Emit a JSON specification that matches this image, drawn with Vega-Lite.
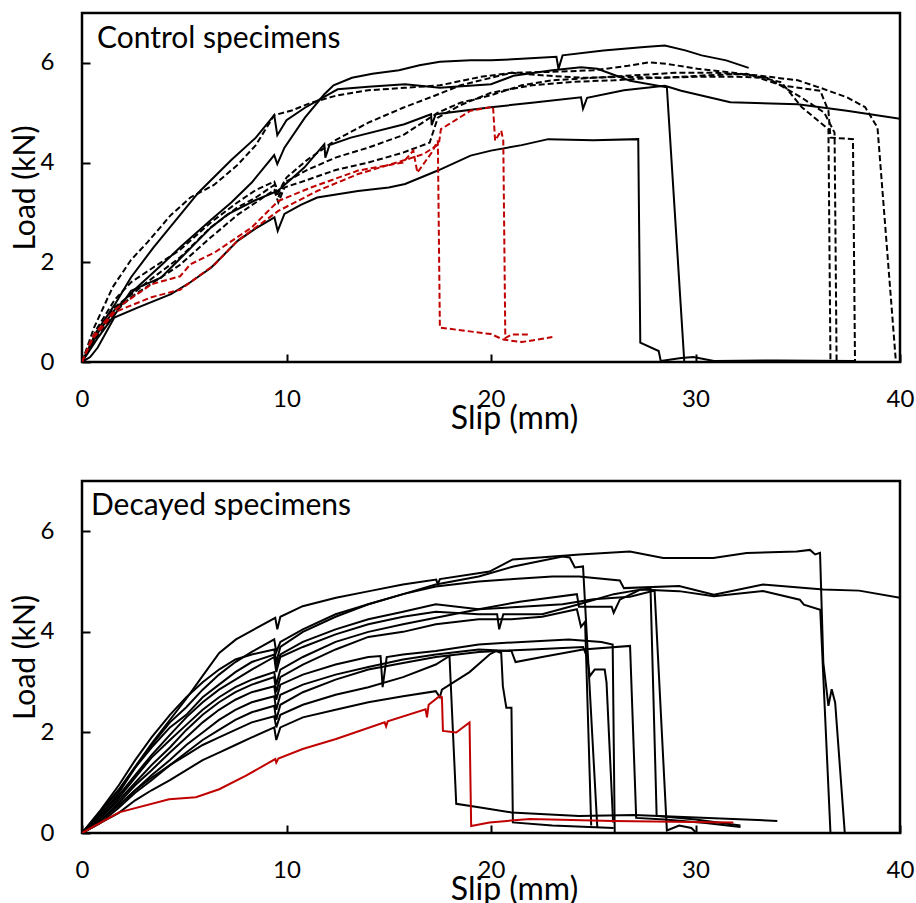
{
"$schema": "https://vega.github.io/schema/vega-lite/v6.json",
"background": "white",
"padding": {"left": 8, "top": 11, "right": 5, "bottom": 0},
"config": {
  "font": "Lato",
  "view": {"stroke": "black", "strokeWidth": 2.5},
  "axis": {"grid": false, "domain": false, "tickColor": "black", "tickSize": -8, "tickWidth": 2, "labelFont": "Lato", "labelFontSize": 24, "labelColor": "black", "labelFlush": false, "labelOverlap": false, "titleFont": "Lato", "titleFontWeight": "normal", "titleColor": "black"},
  "axisX": {"labelPadding": 33, "titlePadding": -8, "titleFontSize": 32, "titleX": 432},
  "axisY": {"labelPadding": 36, "titlePadding": 0, "titleFontSize": 30}
},
"spacing": 43,
"datasets": {
"top": [
{"s":"C1","x":0,"y":0},{"s":"C1","x":0.4,"y":0.1},{"s":"C1","x":0.77,"y":0.29},{"s":"C1","x":1.58,"y":0.89},{"s":"C1","x":2.72,"y":1.09},{"s":"C1","x":4.35,"y":1.36},{"s":"C1","x":5.3,"y":1.6},{"s":"C1","x":6.31,"y":1.89},{"s":"C1","x":7.61,"y":2.43},{"s":"C1","x":8.5,"y":2.68},{"s":"C1","x":9.41,"y":2.9},{"s":"C1","x":9.57,"y":2.63},{"s":"C1","x":9.9,"y":2.97},{"s":"C1","x":10.7,"y":3.15},{"s":"C1","x":11.5,"y":3.3},{"s":"C1","x":13.5,"y":3.43},{"s":"C1","x":15,"y":3.5},{"s":"C1","x":15.8,"y":3.57},{"s":"C1","x":17.4,"y":3.84},{"s":"C1","x":19,"y":4.14},{"s":"C1","x":20,"y":4.24},{"s":"C1","x":21.5,"y":4.35},{"s":"C1","x":22.8,"y":4.47},{"s":"C1","x":25,"y":4.45},{"s":"C1","x":27.2,"y":4.47},{"s":"C1","x":27.3,"y":0.39},{"s":"C1","x":28.2,"y":0.22},{"s":"C1","x":28.3,"y":0.02},{"s":"C1","x":29.3,"y":0.08},{"s":"C1","x":29.9,"y":0.1},{"s":"C1","x":30.9,"y":0.02},{"s":"C1","x":34,"y":0.03},{"s":"C1","x":37.8,"y":0.02},
{"s":"C2","x":0,"y":0},{"s":"C2","x":0.7,"y":0.6},{"s":"C2","x":1.6,"y":1.15},{"s":"C2","x":2.4,"y":1.7},{"s":"C2","x":3.5,"y":2.3},{"s":"C2","x":4.8,"y":2.95},{"s":"C2","x":5.7,"y":3.4},{"s":"C2","x":7.3,"y":4.05},{"s":"C2","x":8.5,"y":4.5},{"s":"C2","x":9.4,"y":4.95},{"s":"C2","x":9.55,"y":4.55},{"s":"C2","x":10,"y":4.85},{"s":"C2","x":10.9,"y":5.1},{"s":"C2","x":12.5,"y":5.47},{"s":"C2","x":14,"y":5.52},{"s":"C2","x":15.8,"y":5.57},{"s":"C2","x":17.5,"y":5.5},{"s":"C2","x":20,"y":5.57},{"s":"C2","x":21.1,"y":5.74},{"s":"C2","x":23,"y":5.85},{"s":"C2","x":24.4,"y":5.91},{"s":"C2","x":25.2,"y":5.88},{"s":"C2","x":26.8,"y":5.64},{"s":"C2","x":28.6,"y":5.51},{"s":"C2","x":29.45,"y":0.02},
{"s":"C3","x":0,"y":0},{"s":"C3","x":0.8,"y":0.6},{"s":"C3","x":1.6,"y":1.05},{"s":"C3","x":2.7,"y":1.5},{"s":"C3","x":3.9,"y":1.95},{"s":"C3","x":4.8,"y":2.3},{"s":"C3","x":6.3,"y":2.85},{"s":"C3","x":7.3,"y":3.2},{"s":"C3","x":8.3,"y":3.6},{"s":"C3","x":9.4,"y":4.15},{"s":"C3","x":9.55,"y":3.97},{"s":"C3","x":9.9,"y":4.3},{"s":"C3","x":10.9,"y":4.9},{"s":"C3","x":11.85,"y":5.37},{"s":"C3","x":12.3,"y":5.55},{"s":"C3","x":13.2,"y":5.7},{"s":"C3","x":14.2,"y":5.78},{"s":"C3","x":15.5,"y":5.85},{"s":"C3","x":16.5,"y":5.95},{"s":"C3","x":17.5,"y":6.02},{"s":"C3","x":19,"y":6.05},{"s":"C3","x":20,"y":6.05},{"s":"C3","x":21.5,"y":6.08},{"s":"C3","x":23.2,"y":6.12},{"s":"C3","x":23.3,"y":5.88},{"s":"C3","x":23.5,"y":6.15},{"s":"C3","x":25.5,"y":6.25},{"s":"C3","x":27.5,"y":6.32},{"s":"C3","x":28.5,"y":6.35},{"s":"C3","x":29.5,"y":6.25},{"s":"C3","x":30.3,"y":6.15},{"s":"C3","x":31.5,"y":6.05},{"s":"C3","x":32.6,"y":5.9},
{"s":"C4","x":0,"y":0},{"s":"C4","x":0.8,"y":0.5},{"s":"C4","x":1.6,"y":0.95},{"s":"C4","x":2.4,"y":1.43},{"s":"C4","x":3.86,"y":1.69},{"s":"C4","x":4.84,"y":2.09},{"s":"C4","x":6.31,"y":2.7},{"s":"C4","x":7.12,"y":2.96},{"s":"C4","x":8.5,"y":3.25},{"s":"C4","x":9.57,"y":3.43},{"s":"C4","x":10.87,"y":3.9},{"s":"C4","x":11.85,"y":4.37},{"s":"C4","x":11.9,"y":4.1},{"s":"C4","x":12.1,"y":4.35},{"s":"C4","x":13.15,"y":4.5},{"s":"C4","x":15.76,"y":4.77},{"s":"C4","x":17.07,"y":4.97},{"s":"C4","x":17.1,"y":4.75},{"s":"C4","x":17.3,"y":4.97},{"s":"C4","x":20,"y":5.11},{"s":"C4","x":22,"y":5.2},{"s":"C4","x":24.4,"y":5.31},{"s":"C4","x":24.5,"y":5.08},{"s":"C4","x":24.7,"y":5.3},{"s":"C4","x":26.5,"y":5.45},{"s":"C4","x":28.5,"y":5.54},{"s":"C4","x":29.3,"y":5.44},{"s":"C4","x":31.7,"y":5.21},{"s":"C4","x":35,"y":5.17},{"s":"C4","x":37.4,"y":5.04},{"s":"C4","x":40,"y":4.88},
{"s":"D1","x":0,"y":0},{"s":"D1","x":0.6,"y":0.7},{"s":"D1","x":1.5,"y":1.5},{"s":"D1","x":2.4,"y":2.05},{"s":"D1","x":3.2,"y":2.4},{"s":"D1","x":4.35,"y":2.95},{"s":"D1","x":5.3,"y":3.3},{"s":"D1","x":6.45,"y":3.55},{"s":"D1","x":7.6,"y":3.95},{"s":"D1","x":8.5,"y":4.35},{"s":"D1","x":9.4,"y":4.95},{"s":"D1","x":10.3,"y":5.05},{"s":"D1","x":11.2,"y":5.2},{"s":"D1","x":12.5,"y":5.35},{"s":"D1","x":14,"y":5.45},{"s":"D1","x":15.8,"y":5.5},{"s":"D1","x":17.5,"y":5.55},{"s":"D1","x":19.5,"y":5.72},{"s":"D1","x":21,"y":5.8},{"s":"D1","x":23,"y":5.82},{"s":"D1","x":25,"y":5.85},{"s":"D1","x":26.7,"y":5.94},{"s":"D1","x":27.7,"y":6.01},{"s":"D1","x":28.6,"y":5.98},{"s":"D1","x":30.1,"y":5.88},{"s":"D1","x":31.7,"y":5.81},{"s":"D1","x":32.9,"y":5.74},{"s":"D1","x":34.2,"y":5.61},{"s":"D1","x":35.2,"y":5.11},{"s":"D1","x":36.5,"y":4.67},{"s":"D1","x":36.6,"y":0},
{"s":"D2","x":0,"y":0},{"s":"D2","x":0.7,"y":0.55},{"s":"D2","x":1.6,"y":1.1},{"s":"D2","x":2.4,"y":1.35},{"s":"D2","x":3.5,"y":1.7},{"s":"D2","x":4.8,"y":2.1},{"s":"D2","x":6.3,"y":2.7},{"s":"D2","x":7.6,"y":3.1},{"s":"D2","x":8.5,"y":3.3},{"s":"D2","x":9.4,"y":3.55},{"s":"D2","x":9.6,"y":3.3},{"s":"D2","x":9.9,"y":3.6},{"s":"D2","x":11,"y":3.85},{"s":"D2","x":12.4,"y":4.1},{"s":"D2","x":14,"y":4.3},{"s":"D2","x":15.7,"y":4.55},{"s":"D2","x":17.4,"y":5.0},{"s":"D2","x":18.5,"y":5.2},{"s":"D2","x":20,"y":5.35},{"s":"D2","x":21.5,"y":5.55},{"s":"D2","x":23,"y":5.65},{"s":"D2","x":25,"y":5.7},{"s":"D2","x":27,"y":5.75},{"s":"D2","x":29,"y":5.8},{"s":"D2","x":31,"y":5.8},{"s":"D2","x":33,"y":5.75},{"s":"D2","x":35,"y":5.65},{"s":"D2","x":36.1,"y":5.5},{"s":"D2","x":37.4,"y":5.31},{"s":"D2","x":38.3,"y":5.11},{"s":"D2","x":38.9,"y":4.7},{"s":"D2","x":39.8,"y":0},
{"s":"D3","x":0,"y":0},{"s":"D3","x":0.7,"y":0.5},{"s":"D3","x":1.6,"y":1.0},{"s":"D3","x":2.4,"y":1.3},{"s":"D3","x":3.5,"y":1.6},{"s":"D3","x":4.8,"y":1.95},{"s":"D3","x":6.3,"y":2.5},{"s":"D3","x":7.6,"y":2.95},{"s":"D3","x":8.5,"y":3.2},{"s":"D3","x":9.4,"y":3.45},{"s":"D3","x":9.6,"y":3.2},{"s":"D3","x":9.9,"y":3.5},{"s":"D3","x":11,"y":3.65},{"s":"D3","x":12.4,"y":3.85},{"s":"D3","x":14,"y":4.0},{"s":"D3","x":15.7,"y":4.2},{"s":"D3","x":17,"y":4.4},{"s":"D3","x":17.4,"y":4.9},{"s":"D3","x":18.5,"y":5.15},{"s":"D3","x":20,"y":5.4},{"s":"D3","x":22,"y":5.55},{"s":"D3","x":24,"y":5.62},{"s":"D3","x":26,"y":5.65},{"s":"D3","x":28,"y":5.7},{"s":"D3","x":30,"y":5.72},{"s":"D3","x":32,"y":5.72},{"s":"D3","x":33.5,"y":5.7},{"s":"D3","x":35.2,"y":5.3},{"s":"D3","x":36.3,"y":5.0},{"s":"D3","x":36.8,"y":4.6},{"s":"D3","x":36.9,"y":0},
{"s":"D4","x":0,"y":0},{"s":"D4","x":0.7,"y":0.65},{"s":"D4","x":1.6,"y":1.25},{"s":"D4","x":2.4,"y":1.6},{"s":"D4","x":3.5,"y":1.9},{"s":"D4","x":4.8,"y":2.25},{"s":"D4","x":6.3,"y":2.8},{"s":"D4","x":7.6,"y":3.2},{"s":"D4","x":8.5,"y":3.45},{"s":"D4","x":9.4,"y":3.62},{"s":"D4","x":9.6,"y":3.4},{"s":"D4","x":10,"y":3.7},{"s":"D4","x":11,"y":4.05},{"s":"D4","x":12.4,"y":4.45},{"s":"D4","x":14,"y":4.8},{"s":"D4","x":15.7,"y":5.1},{"s":"D4","x":17.3,"y":5.35},{"s":"D4","x":18.5,"y":5.55},{"s":"D4","x":20,"y":5.7},{"s":"D4","x":21,"y":5.8},{"s":"D4","x":22.5,"y":5.75},{"s":"D4","x":24.5,"y":5.7},{"s":"D4","x":26.5,"y":5.72},{"s":"D4","x":28.5,"y":5.7},{"s":"D4","x":30.5,"y":5.75},{"s":"D4","x":32.5,"y":5.78},{"s":"D4","x":34.2,"y":5.55},{"s":"D4","x":36.1,"y":5.44},{"s":"D4","x":36.5,"y":5.04},{"s":"D4","x":36.6,"y":4.5},{"s":"D4","x":37.7,"y":4.47},{"s":"D4","x":37.8,"y":0},
{"s":"R1","x":0,"y":0},{"s":"R1","x":0.5,"y":0.5},{"s":"R1","x":1.6,"y":1.05},{"s":"R1","x":3.4,"y":1.56},{"s":"R1","x":4.8,"y":1.72},{"s":"R1","x":5.3,"y":1.96},{"s":"R1","x":6.5,"y":2.2},{"s":"R1","x":8.3,"y":2.7},{"s":"R1","x":9.6,"y":3.23},{"s":"R1","x":11.2,"y":3.5},{"s":"R1","x":13.5,"y":3.84},{"s":"R1","x":15.7,"y":4.0},{"s":"R1","x":16.2,"y":4.24},{"s":"R1","x":16.4,"y":3.8},{"s":"R1","x":17.1,"y":4.2},{"s":"R1","x":17.4,"y":4.44},{"s":"R1","x":17.5,"y":0.69},{"s":"R1","x":20,"y":0.56},{"s":"R1","x":20.6,"y":0.45},{"s":"R1","x":21.5,"y":0.4},{"s":"R1","x":22.3,"y":0.45},{"s":"R1","x":23,"y":0.5},
{"s":"R2","x":0,"y":0},{"s":"R2","x":0.5,"y":0.45},{"s":"R2","x":1.6,"y":1.0},{"s":"R2","x":3.4,"y":1.3},{"s":"R2","x":4.8,"y":1.45},{"s":"R2","x":6.5,"y":1.96},{"s":"R2","x":7.6,"y":2.43},{"s":"R2","x":9.6,"y":3.03},{"s":"R2","x":11.5,"y":3.43},{"s":"R2","x":13.5,"y":3.77},{"s":"R2","x":15.7,"y":4.04},{"s":"R2","x":16.7,"y":4.17},{"s":"R2","x":17.45,"y":4.37},{"s":"R2","x":17.55,"y":4.67},{"s":"R2","x":19,"y":5.04},{"s":"R2","x":20.1,"y":5.12},{"s":"R2","x":20.2,"y":4.44},{"s":"R2","x":20.5,"y":4.64},{"s":"R2","x":20.6,"y":4.44},{"s":"R2","x":20.7,"y":0.48},{"s":"R2","x":21,"y":0.55},{"s":"R2","x":21.8,"y":0.55}
],
"bot": [
{"s":"B1","x":0,"y":0},{"s":"B1","x":1.81,"y":0.87},{"s":"B1","x":3.44,"y":1.8},{"s":"B1","x":5.08,"y":2.66},{"s":"B1","x":5.89,"y":3.12},{"s":"B1","x":6.71,"y":3.58},{"s":"B1","x":7.53,"y":3.85},{"s":"B1","x":9.45,"y":4.28},{"s":"B1","x":9.55,"y":4.05},{"s":"B1","x":9.7,"y":4.3},{"s":"B1","x":10.79,"y":4.51},{"s":"B1","x":12.42,"y":4.68},{"s":"B1","x":14.05,"y":4.81},{"s":"B1","x":15.69,"y":4.94},{"s":"B1","x":17.32,"y":5.04},{"s":"B1","x":17.4,"y":4.95},{"s":"B1","x":17.5,"y":5.05},{"s":"B1","x":19.93,"y":5.2},{"s":"B1","x":21.07,"y":5.44},{"s":"B1","x":24.34,"y":5.54},{"s":"B1","x":26.79,"y":5.6},{"s":"B1","x":28.42,"y":5.47},{"s":"B1","x":30.87,"y":5.47},{"s":"B1","x":32.5,"y":5.57},{"s":"B1","x":34.95,"y":5.6},{"s":"B1","x":35.6,"y":5.63},{"s":"B1","x":35.85,"y":5.54},{"s":"B1","x":36.09,"y":5.57},{"s":"B1","x":36.25,"y":3.39},{"s":"B1","x":36.5,"y":2.53},{"s":"B1","x":36.66,"y":2.86},{"s":"B1","x":36.83,"y":2.59},{"s":"B1","x":37.3,"y":0},
{"s":"B2","x":0,"y":0},{"s":"B2","x":0.9,"y":0.35},{"s":"B2","x":1.8,"y":0.8},{"s":"B2","x":2.6,"y":1.3},{"s":"B2","x":3.4,"y":1.75},{"s":"B2","x":4.3,"y":2.2},{"s":"B2","x":5.1,"y":2.5},{"s":"B2","x":5.9,"y":2.85},{"s":"B2","x":6.7,"y":3.15},{"s":"B2","x":7.5,"y":3.4},{"s":"B2","x":8.3,"y":3.6},{"s":"B2","x":9.4,"y":3.85},{"s":"B2","x":9.5,"y":3.6},{"s":"B2","x":9.7,"y":3.8},{"s":"B2","x":10.8,"y":4.05},{"s":"B2","x":12.4,"y":4.35},{"s":"B2","x":14,"y":4.55},{"s":"B2","x":15.7,"y":4.75},{"s":"B2","x":17.3,"y":4.9},{"s":"B2","x":19.4,"y":5.0},{"s":"B2","x":21.1,"y":5.05},{"s":"B2","x":23,"y":5.1},{"s":"B2","x":24.3,"y":5.1},{"s":"B2","x":26.3,"y":5.02},{"s":"B2","x":26.5,"y":4.87},{"s":"B2","x":29.2,"y":4.91},{"s":"B2","x":30.9,"y":4.74},{"s":"B2","x":33.3,"y":4.94},{"s":"B2","x":36.25,"y":4.84},{"s":"B2","x":38,"y":4.82},{"s":"B2","x":40,"y":4.68},
{"s":"B3","x":0,"y":0},{"s":"B3","x":0.9,"y":0.4},{"s":"B3","x":1.8,"y":0.85},{"s":"B3","x":2.6,"y":1.3},{"s":"B3","x":3.4,"y":1.7},{"s":"B3","x":4.3,"y":2.1},{"s":"B3","x":5.1,"y":2.35},{"s":"B3","x":5.9,"y":2.7},{"s":"B3","x":6.7,"y":2.95},{"s":"B3","x":7.5,"y":3.2},{"s":"B3","x":8.3,"y":3.4},{"s":"B3","x":9.4,"y":3.55},{"s":"B3","x":9.5,"y":3.3},{"s":"B3","x":9.7,"y":3.55},{"s":"B3","x":10.8,"y":3.8},{"s":"B3","x":12.4,"y":4.05},{"s":"B3","x":14,"y":4.25},{"s":"B3","x":15.7,"y":4.4},{"s":"B3","x":17.3,"y":4.55},{"s":"B3","x":19.4,"y":4.45},{"s":"B3","x":21.4,"y":4.6},{"s":"B3","x":24.2,"y":4.75},{"s":"B3","x":24.3,"y":4.5},{"s":"B3","x":25.9,"y":4.5},{"s":"B3","x":26,"y":4.38},{"s":"B3","x":26.3,"y":4.64},{"s":"B3","x":27.3,"y":4.84},{"s":"B3","x":29.2,"y":4.81},{"s":"B3","x":30.9,"y":4.71},{"s":"B3","x":33.3,"y":4.81},{"s":"B3","x":35.1,"y":4.64},{"s":"B3","x":35.3,"y":4.54},{"s":"B3","x":36.1,"y":4.44},{"s":"B3","x":36.6,"y":0},
{"s":"B4","x":0,"y":0},{"s":"B4","x":0.9,"y":0.45},{"s":"B4","x":1.8,"y":0.95},{"s":"B4","x":2.6,"y":1.45},{"s":"B4","x":3.4,"y":1.9},{"s":"B4","x":4.3,"y":2.35},{"s":"B4","x":5.1,"y":2.7},{"s":"B4","x":5.9,"y":3.0},{"s":"B4","x":6.7,"y":3.25},{"s":"B4","x":7.5,"y":3.45},{"s":"B4","x":8.3,"y":3.55},{"s":"B4","x":9.4,"y":3.65},{"s":"B4","x":9.5,"y":3.4},{"s":"B4","x":9.7,"y":3.7},{"s":"B4","x":10.8,"y":4.0},{"s":"B4","x":12.4,"y":4.3},{"s":"B4","x":14,"y":4.55},{"s":"B4","x":15.7,"y":4.75},{"s":"B4","x":17.3,"y":4.94},{"s":"B4","x":19.4,"y":5.1},{"s":"B4","x":21.1,"y":5.3},{"s":"B4","x":23.5,"y":5.5},{"s":"B4","x":23.85,"y":5.48},{"s":"B4","x":24.1,"y":5.28},{"s":"B4","x":24.5,"y":5.3},{"s":"B4","x":25.2,"y":0.1},
{"s":"B5","x":0,"y":0},{"s":"B5","x":0.9,"y":0.35},{"s":"B5","x":1.8,"y":0.75},{"s":"B5","x":2.6,"y":1.15},{"s":"B5","x":3.4,"y":1.55},{"s":"B5","x":4.3,"y":1.95},{"s":"B5","x":5.1,"y":2.3},{"s":"B5","x":5.9,"y":2.6},{"s":"B5","x":6.7,"y":2.85},{"s":"B5","x":7.5,"y":3.05},{"s":"B5","x":8.3,"y":3.25},{"s":"B5","x":9.4,"y":3.5},{"s":"B5","x":9.5,"y":3.2},{"s":"B5","x":9.7,"y":3.5},{"s":"B5","x":10.8,"y":3.7},{"s":"B5","x":12.4,"y":3.95},{"s":"B5","x":14,"y":4.15},{"s":"B5","x":15.7,"y":4.3},{"s":"B5","x":17.3,"y":4.4},{"s":"B5","x":19.4,"y":4.35},{"s":"B5","x":20.3,"y":4.35},{"s":"B5","x":20.4,"y":4.05},{"s":"B5","x":20.6,"y":4.35},{"s":"B5","x":22.5,"y":4.35},{"s":"B5","x":24.3,"y":4.55},{"s":"B5","x":26,"y":4.75},{"s":"B5","x":27.3,"y":4.84},{"s":"B5","x":27.8,"y":4.86},{"s":"B5","x":28.1,"y":0.34},{"s":"B5","x":30,"y":0.27},{"s":"B5","x":32.2,"y":0.15},
{"s":"B6","x":0,"y":0},{"s":"B6","x":0.9,"y":0.3},{"s":"B6","x":1.8,"y":0.7},{"s":"B6","x":2.6,"y":1.1},{"s":"B6","x":3.4,"y":1.5},{"s":"B6","x":4.3,"y":1.85},{"s":"B6","x":5.1,"y":2.15},{"s":"B6","x":5.9,"y":2.45},{"s":"B6","x":6.7,"y":2.7},{"s":"B6","x":7.5,"y":2.9},{"s":"B6","x":8.3,"y":3.05},{"s":"B6","x":9.4,"y":3.2},{"s":"B6","x":9.5,"y":2.95},{"s":"B6","x":9.7,"y":3.25},{"s":"B6","x":10.8,"y":3.5},{"s":"B6","x":12.4,"y":3.8},{"s":"B6","x":14,"y":4.0},{"s":"B6","x":15.7,"y":4.15},{"s":"B6","x":17.3,"y":4.28},{"s":"B6","x":19.4,"y":4.45},{"s":"B6","x":21.5,"y":4.5},{"s":"B6","x":23.5,"y":4.55},{"s":"B6","x":25,"y":4.65},{"s":"B6","x":26.8,"y":4.7},{"s":"B6","x":28,"y":4.82},{"s":"B6","x":28.6,"y":0.05},{"s":"B6","x":29.2,"y":0.15},{"s":"B6","x":29.8,"y":0.1},{"s":"B6","x":30,"y":0.02},
{"s":"B7","x":0,"y":0},{"s":"B7","x":0.9,"y":0.3},{"s":"B7","x":1.8,"y":0.65},{"s":"B7","x":2.6,"y":1.0},{"s":"B7","x":3.4,"y":1.35},{"s":"B7","x":4.3,"y":1.7},{"s":"B7","x":5.1,"y":2.05},{"s":"B7","x":5.9,"y":2.35},{"s":"B7","x":6.7,"y":2.6},{"s":"B7","x":7.5,"y":2.8},{"s":"B7","x":8.3,"y":2.95},{"s":"B7","x":9.4,"y":3.1},{"s":"B7","x":9.5,"y":2.8},{"s":"B7","x":9.7,"y":3.1},{"s":"B7","x":10.8,"y":3.35},{"s":"B7","x":12.4,"y":3.65},{"s":"B7","x":14,"y":3.9},{"s":"B7","x":15.7,"y":4.0},{"s":"B7","x":17.3,"y":4.15},{"s":"B7","x":19.4,"y":4.25},{"s":"B7","x":21,"y":4.25},{"s":"B7","x":22.5,"y":4.3},{"s":"B7","x":24.2,"y":4.45},{"s":"B7","x":24.4,"y":4.1},{"s":"B7","x":24.6,"y":4.2},{"s":"B7","x":24.9,"y":0.15},
{"s":"B8","x":0,"y":0},{"s":"B8","x":0.9,"y":0.25},{"s":"B8","x":1.8,"y":0.6},{"s":"B8","x":2.6,"y":0.95},{"s":"B8","x":3.4,"y":1.25},{"s":"B8","x":4.3,"y":1.6},{"s":"B8","x":5.1,"y":1.9},{"s":"B8","x":5.9,"y":2.2},{"s":"B8","x":6.7,"y":2.45},{"s":"B8","x":7.5,"y":2.65},{"s":"B8","x":8.3,"y":2.8},{"s":"B8","x":9.4,"y":2.92},{"s":"B8","x":9.5,"y":2.65},{"s":"B8","x":9.7,"y":2.95},{"s":"B8","x":10.8,"y":3.15},{"s":"B8","x":12.4,"y":3.35},{"s":"B8","x":14,"y":3.5},{"s":"B8","x":14.6,"y":3.52},{"s":"B8","x":14.7,"y":2.9},{"s":"B8","x":14.9,"y":3.5},{"s":"B8","x":15.7,"y":3.55},{"s":"B8","x":17.3,"y":3.62},{"s":"B8","x":19.4,"y":3.75},{"s":"B8","x":21.5,"y":3.8},{"s":"B8","x":23.8,"y":3.85},{"s":"B8","x":25.4,"y":3.8},{"s":"B8","x":25.95,"y":3.75},{"s":"B8","x":26.05,"y":0},
{"s":"B9","x":0,"y":0},{"s":"B9","x":0.9,"y":0.25},{"s":"B9","x":1.8,"y":0.55},{"s":"B9","x":2.6,"y":0.85},{"s":"B9","x":3.4,"y":1.15},{"s":"B9","x":4.3,"y":1.45},{"s":"B9","x":5.1,"y":1.75},{"s":"B9","x":5.9,"y":2.0},{"s":"B9","x":6.7,"y":2.25},{"s":"B9","x":7.5,"y":2.45},{"s":"B9","x":8.3,"y":2.6},{"s":"B9","x":9.4,"y":2.72},{"s":"B9","x":9.5,"y":2.45},{"s":"B9","x":9.7,"y":2.75},{"s":"B9","x":10.8,"y":2.95},{"s":"B9","x":12.4,"y":3.15},{"s":"B9","x":14,"y":3.3},{"s":"B9","x":15.7,"y":3.45},{"s":"B9","x":17.3,"y":3.55},{"s":"B9","x":19.4,"y":3.65},{"s":"B9","x":21,"y":3.62},{"s":"B9","x":21.2,"y":3.4},{"s":"B9","x":22.5,"y":3.5},{"s":"B9","x":24.5,"y":3.65},{"s":"B9","x":26.8,"y":3.72},{"s":"B9","x":27.1,"y":0.3},{"s":"B9","x":28.5,"y":0.27},{"s":"B9","x":30.5,"y":0.2},{"s":"B9","x":32.2,"y":0.12},
{"s":"B10","x":0,"y":0},{"s":"B10","x":0.9,"y":0.2},{"s":"B10","x":1.8,"y":0.5},{"s":"B10","x":2.6,"y":0.8},{"s":"B10","x":3.4,"y":1.05},{"s":"B10","x":4.3,"y":1.35},{"s":"B10","x":5.1,"y":1.6},{"s":"B10","x":5.9,"y":1.85},{"s":"B10","x":6.7,"y":2.05},{"s":"B10","x":7.5,"y":2.25},{"s":"B10","x":8.3,"y":2.4},{"s":"B10","x":9.4,"y":2.53},{"s":"B10","x":9.5,"y":2.25},{"s":"B10","x":9.7,"y":2.55},{"s":"B10","x":10.8,"y":2.8},{"s":"B10","x":12.4,"y":3.05},{"s":"B10","x":14,"y":3.25},{"s":"B10","x":15.7,"y":3.38},{"s":"B10","x":17.3,"y":3.5},{"s":"B10","x":19.4,"y":3.6},{"s":"B10","x":22,"y":3.65},{"s":"B10","x":24.5,"y":3.7},{"s":"B10","x":24.7,"y":3.5},{"s":"B10","x":24.83,"y":3.12},{"s":"B10","x":25.07,"y":3.25},{"s":"B10","x":25.56,"y":3.25},{"s":"B10","x":25.65,"y":2.99},{"s":"B10","x":25.97,"y":0.21},
{"s":"B11","x":0,"y":0},{"s":"B11","x":0.9,"y":0.2},{"s":"B11","x":1.8,"y":0.4},{"s":"B11","x":2.6,"y":0.65},{"s":"B11","x":3.4,"y":0.85},{"s":"B11","x":4.3,"y":1.05},{"s":"B11","x":5.1,"y":1.25},{"s":"B11","x":5.9,"y":1.45},{"s":"B11","x":6.7,"y":1.6},{"s":"B11","x":7.5,"y":1.75},{"s":"B11","x":8.3,"y":1.9},{"s":"B11","x":9.4,"y":2.1},{"s":"B11","x":9.5,"y":1.85},{"s":"B11","x":9.7,"y":2.1},{"s":"B11","x":10.8,"y":2.3},{"s":"B11","x":12.4,"y":2.45},{"s":"B11","x":14,"y":2.6},{"s":"B11","x":15.7,"y":2.72},{"s":"B11","x":17.3,"y":2.82},{"s":"B11","x":17.5,"y":2.7},{"s":"B11","x":17.6,"y":2.85},{"s":"B11","x":18.95,"y":3.2},{"s":"B11","x":19.93,"y":3.55},{"s":"B11","x":20.26,"y":3.62},{"s":"B11","x":20.5,"y":3.58},{"s":"B11","x":20.58,"y":2.92},{"s":"B11","x":20.75,"y":2.49},{"s":"B11","x":21,"y":2.49},{"s":"B11","x":21.07,"y":0.21},{"s":"B11","x":23,"y":0.15},{"s":"B11","x":26,"y":0.1},
{"s":"B12","x":0,"y":0},{"s":"B12","x":0.9,"y":0.25},{"s":"B12","x":1.8,"y":0.55},{"s":"B12","x":2.6,"y":0.85},{"s":"B12","x":3.4,"y":1.1},{"s":"B12","x":4.3,"y":1.35},{"s":"B12","x":5.1,"y":1.55},{"s":"B12","x":5.9,"y":1.75},{"s":"B12","x":6.7,"y":1.9},{"s":"B12","x":7.5,"y":2.05},{"s":"B12","x":8.3,"y":2.2},{"s":"B12","x":9.4,"y":2.32},{"s":"B12","x":9.5,"y":2.1},{"s":"B12","x":9.7,"y":2.35},{"s":"B12","x":10.8,"y":2.55},{"s":"B12","x":12.4,"y":2.75},{"s":"B12","x":14,"y":2.9},{"s":"B12","x":15.7,"y":3.1},{"s":"B12","x":17.3,"y":3.35},{"s":"B12","x":17.97,"y":3.52},{"s":"B12","x":18.3,"y":0.58},{"s":"B12","x":19.4,"y":0.51},{"s":"B12","x":21,"y":0.41},{"s":"B12","x":24.3,"y":0.34},{"s":"B12","x":27,"y":0.36},{"s":"B12","x":34,"y":0.24},
{"s":"R","x":0,"y":0},{"s":"R","x":1.81,"y":0.41},{"s":"R","x":4.26,"y":0.67},{"s":"R","x":5.57,"y":0.71},{"s":"R","x":6.71,"y":0.87},{"s":"R","x":8.02,"y":1.14},{"s":"R","x":9.45,"y":1.47},{"s":"R","x":9.5,"y":1.4},{"s":"R","x":9.6,"y":1.48},{"s":"R","x":10.79,"y":1.67},{"s":"R","x":12.42,"y":1.87},{"s":"R","x":14.8,"y":2.2},{"s":"R","x":14.87,"y":2.12},{"s":"R","x":14.95,"y":2.22},{"s":"R","x":16.8,"y":2.46},{"s":"R","x":16.87,"y":2.3},{"s":"R","x":16.95,"y":2.55},{"s":"R","x":17.48,"y":2.72},{"s":"R","x":17.6,"y":2.7},{"s":"R","x":17.65,"y":2.03},{"s":"R","x":18.3,"y":2.0},{"s":"R","x":18.95,"y":2.2},{"s":"R","x":19.03,"y":0.14},{"s":"R","x":19.93,"y":0.21},{"s":"R","x":21.9,"y":0.28},{"s":"R","x":25.97,"y":0.24},{"s":"R","x":31.85,"y":0.21}
]
},
"vconcat": [
{
  "width": 818, "height": 349,
  "data": {"name": "top"},
  "encoding": {
    "x": {"field": "x", "type": "quantitative", "scale": {"domain": [0, 40], "nice": false}, "axis": {"values": [0, 10, 20, 30, 40], "title": "Slip (mm)"}},
    "y": {"field": "y", "type": "quantitative", "scale": {"domain": [0, 7], "nice": false}, "axis": {"values": [0, 2, 4, 6], "title": "Load (kN)"}}
  },
  "layer": [
    {"transform": [{"filter": {"field": "s", "oneOf": ["C1", "C2", "C3", "C4"]}}], "mark": {"type": "line", "color": "black", "strokeWidth": 2, "clip": true}, "encoding": {"detail": {"field": "s"}}},
    {"transform": [{"filter": {"field": "s", "oneOf": ["D1", "D2", "D3", "D4"]}}], "mark": {"type": "line", "color": "black", "strokeWidth": 2, "strokeDash": [6, 3], "clip": true}, "encoding": {"detail": {"field": "s"}}},
    {"transform": [{"filter": {"field": "s", "oneOf": ["R1", "R2"]}}], "mark": {"type": "line", "color": "#c00000", "strokeWidth": 2, "strokeDash": [6, 3], "clip": true}, "encoding": {"detail": {"field": "s"}}},
    {"data": {"values": [{"t": "Control specimens", "x": 0.73, "y": 6.29}]}, "mark": {"type": "text", "align": "left", "baseline": "alphabetic", "fontSize": 30, "font": "Lato", "color": "black"}, "encoding": {"text": {"field": "t"}}}
  ]
},
{
  "width": 818, "height": 352,
  "data": {"name": "bot"},
  "encoding": {
    "x": {"field": "x", "type": "quantitative", "scale": {"domain": [0, 40], "nice": false}, "axis": {"values": [0, 10, 20, 30, 40], "title": "Slip (mm)"}},
    "y": {"field": "y", "type": "quantitative", "scale": {"domain": [0, 7], "nice": false}, "axis": {"values": [0, 2, 4, 6], "title": "Load (kN)"}}
  },
  "layer": [
    {"transform": [{"filter": {"field": "s", "oneOf": ["B1", "B2", "B3", "B4", "B5", "B6", "B7", "B8", "B9", "B10", "B11", "B12"]}}], "mark": {"type": "line", "color": "black", "strokeWidth": 2, "clip": true}, "encoding": {"detail": {"field": "s"}}},
    {"transform": [{"filter": {"field": "s", "equal": "R"}}], "mark": {"type": "line", "color": "#c00000", "strokeWidth": 2, "clip": true}, "encoding": {"detail": {"field": "s"}}},
    {"data": {"values": [{"t": "Decayed specimens", "x": 0.44, "y": 6.33}]}, "mark": {"type": "text", "align": "left", "baseline": "alphabetic", "fontSize": 30, "font": "Lato", "color": "black"}, "encoding": {"text": {"field": "t"}}}
  ]
}
]
}
